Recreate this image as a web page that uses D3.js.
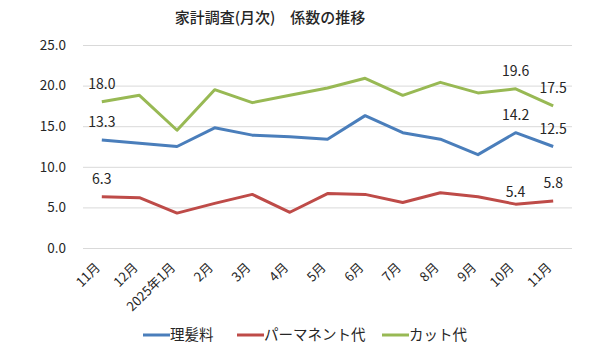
<!DOCTYPE html>
<html lang="ja">
<head>
<meta charset="utf-8">
<title>家計調査(月次) 係数の推移</title>
<script src="https://cdn.jsdelivr.net/npm/d3@7"></script>
<style>
  body { margin: 0; background: #fff; }
  #chart text { font-family: "Noto Sans CJK JP", "Noto Sans", sans-serif; fill: #262626; }
  .grid line { stroke: #d9d9d9; stroke-width: 1; }
  .grid path { display: none; }
  .axis path, .axis line { display: none; }
</style>
</head>
<body>
<div id="chart"></div>
<script>
// months, first is 2024年11月
var months = ["11月", "12月", "2025年1月", "2月", "3月", "4月", "5月", "6月", "7月", "8月", "9月", "10月", "11月"];
var riHatsu = [13.3, 12.9, 12.5, 14.8, 13.9, 13.7, 13.4, 16.3, 14.2, 13.4, 11.5, 14.2, 12.5];
var perm = [6.3, 6.2, 4.3, 5.5, 6.6, 4.4, 6.7, 6.6, 5.6, 6.8, 6.3, 5.4, 5.8];
var cut = [18.0, 18.8, 14.5, 19.5, 17.9, 18.8, 19.7, 20.9, 18.8, 20.4, 19.1, 19.6, 17.5];
var yTicks = [0, 5, 10, 15, 20, 25];
// indices that get a value label
var labelIdx = [0, 11, 12];

var series = [
  { name: "理髪料", values: riHatsu, color: "#4a7ebb" },
  { name: "パーマネント代", values: perm, color: "#be4b48" },
  { name: "カット代", values: cut, color: "#98b954" }
];

var width = 600, height = 354;
var margin = { top: 45, right: 28, bottom: 106, left: 83 };
var w = width - margin.left - margin.right,
    h = height - margin.top - margin.bottom;

var svg = d3.select("#chart").append("svg")
    .attr("width", width)
    .attr("height", height);

svg.append("text")
    .attr("x", 270)
    .attr("y", 23)
    .attr("text-anchor", "middle")
    .style("font-size", "15px")
    .style("font-weight", "500")
    .text("家計調査(月次)\u3000係数の推移");

var chart = svg.append("g")
    .attr("transform", "translate(" + margin.left + "," + margin.top + ")");

var x = d3.scaleBand()
    .domain(d3.range(months.length))
    .range([0, w]);

var y = d3.scaleLinear()
    .domain([0, 25])
    .range([h, 0]);

chart.append("g")
    .attr("class", "grid")
    .call(d3.axisLeft(y).tickValues(yTicks).tickSize(-w).tickFormat(""));

chart.append("g")
    .attr("class", "axis")
    .call(d3.axisLeft(y).tickValues(yTicks).tickFormat(d3.format(".1f")).tickPadding(11))
    .selectAll("text")
    .style("font-size", "13.5px");

var xAxis = chart.append("g")
    .attr("class", "axis")
    .attr("transform", "translate(0," + h + ")")
    .call(d3.axisBottom(x).tickFormat(function(i) { return months[i]; }).tickSize(0));

xAxis.selectAll("text")
    .style("font-size", "13px")
    .style("text-anchor", "end")
    .attr("x", 0)
    .attr("y", 0)
    .attr("dy", "0.35em")
    .attr("transform", "translate(-4,17) rotate(-45)");

var line = d3.line()
    .x(function(d, i) { return x(i) + x.bandwidth() / 2; })
    .y(function(d) { return y(d); });

series.forEach(function(s) {
  chart.append("path")
      .datum(s.values)
      .attr("fill", "none")
      .attr("stroke", s.color)
      .attr("stroke-width", 3)
      .attr("stroke-linejoin", "round")
      .attr("d", line);

  chart.selectAll(null)
      .data(labelIdx)
      .enter()
      .append("text")
      .attr("x", function(i) { return x(i) + x.bandwidth() / 2; })
      .attr("y", function(i) { return y(s.values[i]) - (s.name == "パーマネント代" && i == 11 ? 7 : 13); })
      .attr("text-anchor", "middle")
      .style("font-size", "14px")
      .text(function(i) { return d3.format(".1f")(s.values[i]); });
});

// legend
var legend = svg.append("g")
    .attr("transform", "translate(143,335)");
var offs = [0, 94, 239];
series.forEach(function(s, i) {
  var g = legend.append("g").attr("transform", "translate(" + offs[i] + ",0)");
  g.append("line")
      .attr("x1", 0).attr("x2", 27)
      .attr("y1", 0).attr("y2", 0)
      .attr("stroke", s.color)
      .attr("stroke-width", 3);
  g.append("text")
      .attr("x", 27)
      .attr("y", 5)
      .style("font-size", "14.5px")
      .text(s.name);
});
</script>
</body>
</html>
